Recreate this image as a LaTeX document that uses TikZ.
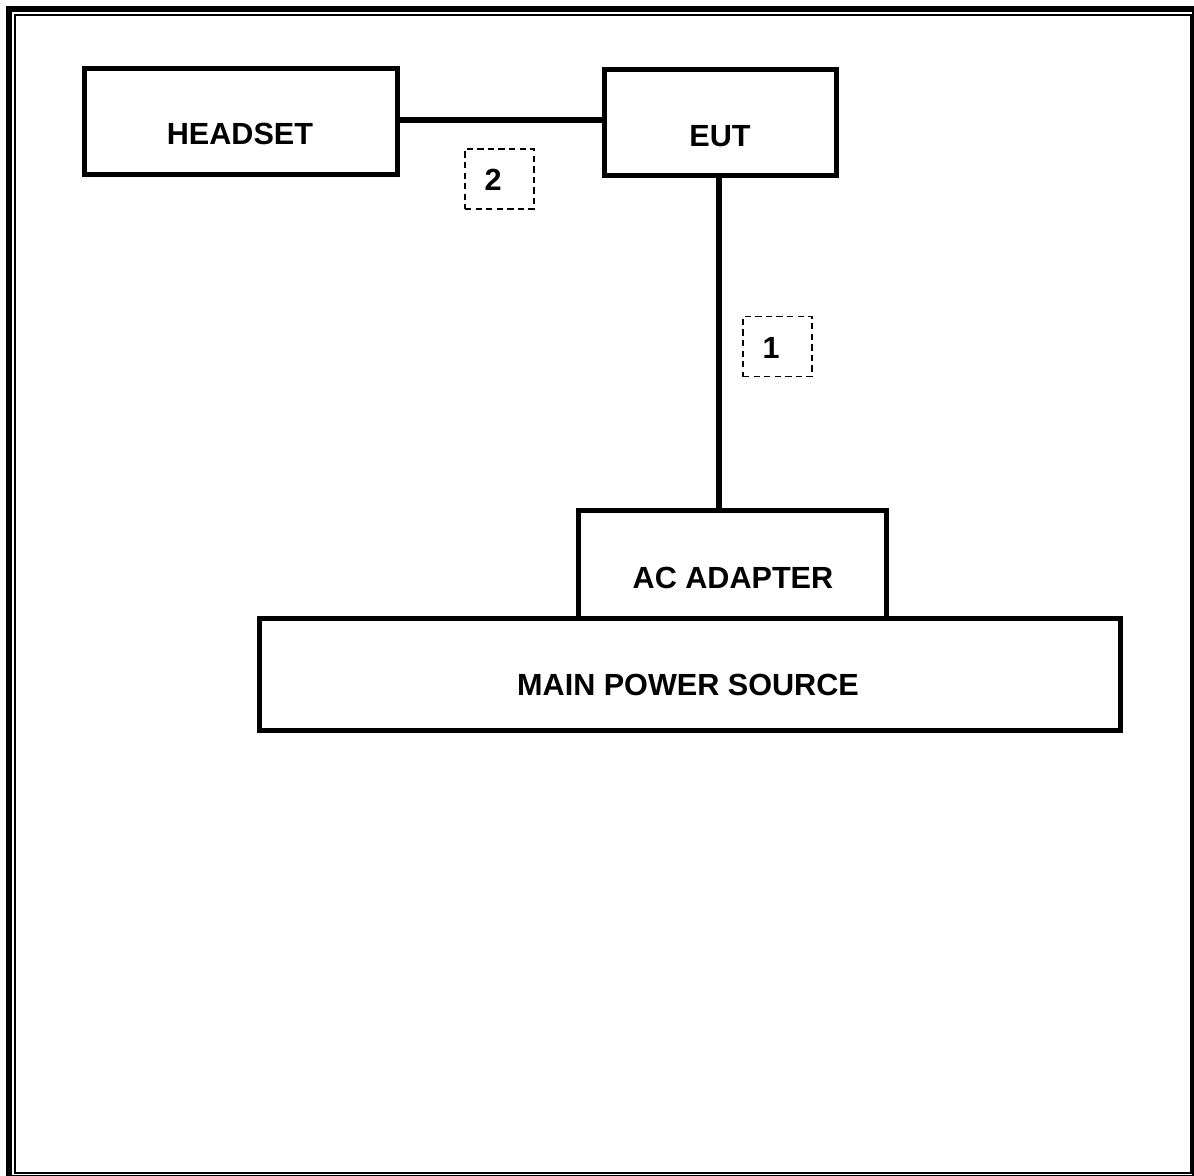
\documentclass[tikz,border=0pt]{standalone}
\usepackage{fontspec}
\setmainfont{Liberation Sans}
\begin{document}
\begin{tikzpicture}[x=0.01cm,y=-0.01cm,
  box/.style={draw=black,line width=1.55pt,rectangle,inner sep=0pt},
  lbl/.style={font=\fontsize{8.7}{10}\selectfont\bfseries,inner sep=0pt},
  tag/.style={draw=black,line width=0.45pt,dash pattern=on 1.8pt off 1.2pt,rectangle,inner sep=0pt,minimum width=69*0.01cm,minimum height=60*0.01cm},
  wire/.style={draw=black,line width=1.55pt}]
\useasboundingbox (0,0) rectangle (1194,1176);
% page frame
\draw[line width=1.7pt] (9,9) rectangle (1195,1178);
\draw[line width=0.57pt] (15,15) rectangle (1190.5,1172.5);
% boxes
\node[box,minimum width=313*0.01cm,minimum height=106*0.01cm] (headset) at (241,121.5) {};
\node[box,minimum width=232*0.01cm,minimum height=106*0.01cm] (eut) at (720.5,122.5) {};
\node[box,minimum width=308*0.01cm,minimum height=108*0.01cm] (ac) at (732.5,564.5) {};
\node[box,minimum width=861*0.01cm,minimum height=112*0.01cm] (mains) at (690,674.5) {};
% texts
\node[lbl] (theadset) at (240,134) {HEADSET};
\node[lbl] (teut) at (720,136) {EUT};
\node[lbl] (tac) at (733,578) {AC ADAPTER};
\node[lbl] (tmains) at (688,685) {MAIN POWER SOURCE};
% connectors
\draw[wire] ([yshift=0.015cm]headset.east) -- ([yshift=0.015cm]headset.east -| eut.west);
\draw[wire] ([xshift=-0.015cm]eut.south) -- ([xshift=-0.015cm]eut.south |- ac.north);
% cable tags
\node[tag] (tag2) at (499.5,179) {};
\node[lbl] (t2) at (493,180) {2};
\node[tag] (tag1) at (777.5,346.5) {};
\node[lbl] (t1) at (771,348) {1};
\end{tikzpicture}
\end{document}
